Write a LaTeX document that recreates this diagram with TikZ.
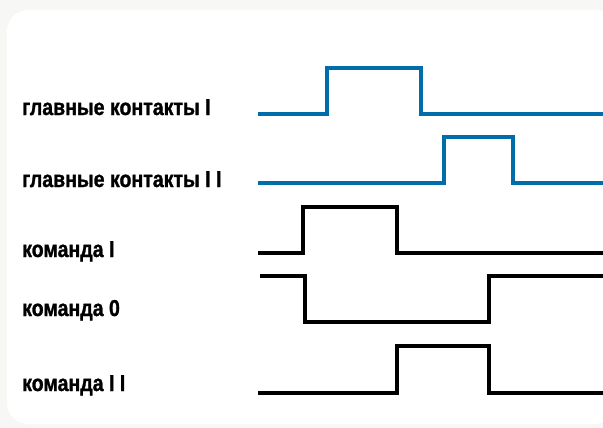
\documentclass[tikz,border=0pt]{standalone}
\usepackage{fontspec}
\setmainfont{Liberation Sans}[FakeStretch=0.85,BoldFeatures={FakeBold=1.2}]
\usepackage{tikz}
\usetikzlibrary{positioning}
\definecolor{wireblue}{RGB}{0,108,170}
\definecolor{paper}{RGB}{247,247,245}
\tikzset{>=stealth}
\tikzset{
  lbl/.style={anchor=base west,inner sep=0pt,font=\fontsize{23}{27}\selectfont\bfseries},
  blueline/.style={wireblue,line width=4pt},
  blackline/.style={black,line width=4pt}
}

\begin{document}
\begin{tikzpicture}[x=1pt,y=-1pt]
    % frame
    \useasboundingbox (0,0) rectangle (603,428);
    \fill[paper] (0,0) rectangle (603,428);
    \fill[white,rounded corners=21pt] (7,10) rectangle (616,424);
    % set up the nodes
    \node[lbl] (K1) at (22,115) {главные контакты I};
    \node[lbl] (K2) at (22,187) {главные контакты I I};
    \node[lbl] (C1) at (22,257) {команда I};
    \node[lbl] (C0) at (22,316) {команда 0};
    \node[lbl] (C2) at (22,391) {команда I I};
    % draw the signals
    \draw[blueline] (258,114) -- (327,114) -- (327,68) -- (421,68) -- (421,114) -- (603,114);
    \draw[blueline] (258,183) -- (444,183) -- (444,137) -- (513,137) -- (513,183) -- (603,183);
    \draw[blackline] (258,253) -- (303,253) -- (303,207) -- (397,207) -- (397,253) -- (603,253);
    \draw[blackline] (260,276) -- (305,276) -- (305,322) -- (489,322) -- (489,276) -- (603,276);
    \draw[blackline] (258,393) -- (397,393) -- (397,346) -- (489,346) -- (489,393) -- (603,393);
\end{tikzpicture}
\end{document}
